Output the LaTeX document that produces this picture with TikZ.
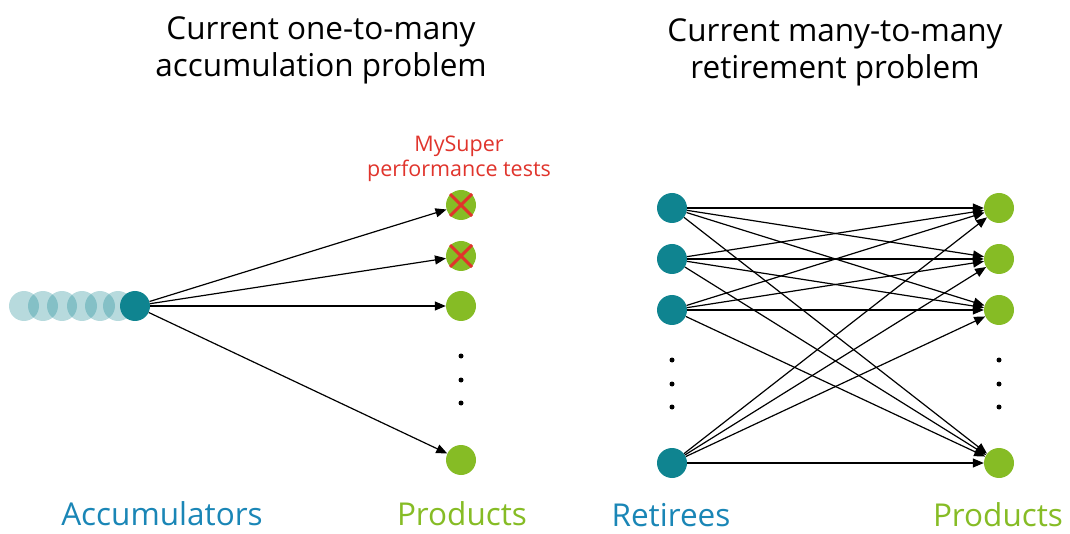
\documentclass[tikz,border=0pt]{standalone}
\usepackage{fontspec}
\setmainfont{Open Sans}
\usepackage{xcolor}
\usetikzlibrary{arrows.meta}

\definecolor{retireeteal}{HTML}{0F8490}
\definecolor{productgreen}{HTML}{86BC25}
\definecolor{labelblue}{HTML}{1A86B6}
\definecolor{testred}{HTML}{E0342C}

\begin{document}
\begin{tikzpicture}[
    x=1pt, y=-1pt,
    member/.style={circle, fill=retireeteal, minimum size=30pt, inner sep=0pt},
    ghost/.style={circle, fill=retireeteal, fill opacity=0.3, minimum size=30pt, inner sep=0pt},
    product/.style={circle, fill=productgreen, minimum size=30pt, inner sep=0pt},
    gap/.style={circle, fill=black, minimum size=5pt, inner sep=0pt},
    heading/.style={font=\fontsize{31.5}{37}\selectfont, align=center},
    caption/.style={font=\fontsize{31.5}{34}\selectfont, inner sep=1pt, text depth=0pt},
    arrow/.style={-{Triangle[length=11pt, width=9pt]}, line width=1.2pt},
    cross/.style={testred, line width=3pt}
]
\useasboundingbox (0,0) rectangle (1070,534);

% titles
\node[heading] (acctitle) at (321,50) {Current one-to-many\\accumulation problem};
\node[heading] (rettitle) at (835,52) {Current many-to-many\\retirement problem};

% left: one accumulator, many products
\node[ghost] (g1) at (24,306) {};
\node[ghost] (g2) at (43,306) {};
\node[ghost] (g3) at (62,306) {};
\node[ghost] (g4) at (82,306) {};
\node[ghost] (g5) at (100,306) {};
\node[ghost] (g6) at (118,306) {};
\node[member] (acc) at (135,306) {};

\node[product] (lp1) at (461,205) {};
\node[product] (lp2) at (461,256) {};
\node[product] (lp3) at (461,306) {};
\node[product] (lp4) at (461,460) {};
\node[gap] at (461,356) {};
\node[gap] at (461,380) {};
\node[gap] at (461,403) {};

\draw[arrow] (acc) -- (lp1);
\draw[arrow] (acc) -- (lp2);
\draw[arrow] (acc) -- (lp3);
\draw[arrow] (acc) -- (lp4);

\draw[cross] (lp1.center) ++(-11,-11) -- ++(22,22) ++(0,-22) -- ++(-22,22);
\draw[cross] (lp2.center) ++(-11,-11) -- ++(22,22) ++(0,-22) -- ++(-22,22);
\node[testred, font=\fontsize{21.5}{25}\selectfont, align=center] (tests) at (459,159) {MySuper\\performance tests};

% right: many retirees, many products
\node[member] (r1) at (672,208) {};
\node[member] (r2) at (672,259) {};
\node[member] (r3) at (672,310) {};
\node[member] (r4) at (672,463) {};
\node[gap] at (672,360) {};
\node[gap] at (672,384) {};
\node[gap] at (672,407) {};

\node[product] (p1) at (999,208) {};
\node[product] (p2) at (999,259) {};
\node[product] (p3) at (999,310) {};
\node[product] (p4) at (999,463) {};
\node[gap] at (999,360) {};
\node[gap] at (999,384) {};
\node[gap] at (999,407) {};

\draw[arrow] (r1) -- (p1);
\draw[arrow] (r1) -- (p2);
\draw[arrow] (r1) -- (p3);
\draw[arrow] (r1) -- (p4);
\draw[arrow] (r2) -- (p1);
\draw[arrow] (r2) -- (p2);
\draw[arrow] (r2) -- (p3);
\draw[arrow] (r2) -- (p4);
\draw[arrow] (r3) -- (p1);
\draw[arrow] (r3) -- (p2);
\draw[arrow] (r3) -- (p3);
\draw[arrow] (r3) -- (p4);
\draw[arrow] (r4) -- (p1);
\draw[arrow] (r4) -- (p2);
\draw[arrow] (r4) -- (p3);
\draw[arrow] (r4) -- (p4);

% bottom captions
\node[caption, labelblue] (acclabel) at (162,514) {Accumulators};
\node[caption, productgreen] (lplabel) at (462,514) {Products};
\node[caption, labelblue] (retlabel) at (671,515) {Retirees};
\node[caption, productgreen] (plabel) at (998,515) {Products};
\end{tikzpicture}
\end{document}
